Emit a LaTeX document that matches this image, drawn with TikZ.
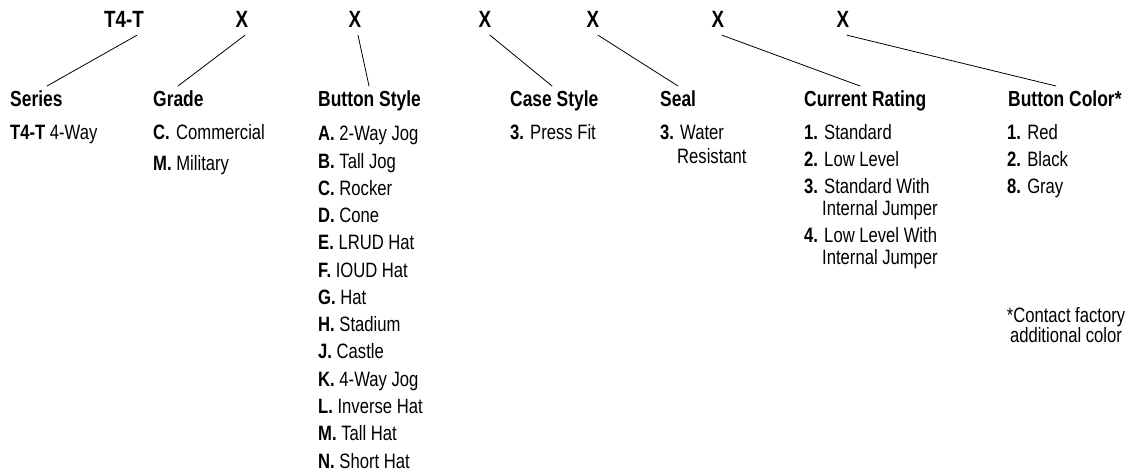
\documentclass[tikz,border=0pt]{standalone}
\usepackage{fontspec}
\setmainfont{Liberation Sans}[FakeStretch=0.8]
\usetikzlibrary{calc}

\begin{document}
\begin{tikzpicture}[x=1bp, y=-1bp, line cap=round, line join=round]
\tikzstyle{code}=[font=\fontsize{23.5bp}{26bp}\selectfont\bfseries, inner sep=0pt, anchor=base]
\tikzstyle{head}=[font=\fontsize{21.8bp}{24bp}\selectfont\bfseries, inner sep=0pt, anchor=base west]
\tikzstyle{item}=[font=\fontsize{20.8bp}{24bp}\selectfont, inner sep=0pt, anchor=base west]
\tikzstyle{lead}=[line width=0.8bp, draw=black]
\useasboundingbox (0,0) rectangle (1130,473);

% part number
\node[code] (c0) at (124,28) {T4-T};
\foreach \x [count=\i] in {242,355,485,593,718,843}
  \node[code] (c\i) at (\x,28) {X};

% headings
\node[head] (h0) at (10,107)   {Series};
\node[head] (h1) at (153,107)  {Grade};
\node[head] (h2) at (318,107)  {Button Style};
\node[head] (h3) at (510,107)  {Case Style};
\node[head] (h4) at (660,107)  {Seal};
\node[head] (h5) at (804,107)  {Current Rating};
\node[head] (h6) at (1008,107) {Button Color*};

\foreach \i/\dx/\ex in {0/13/37, 1/3/25, 2/3/51, 3/5/42, 4/5/18, 5/4/56, 6/4/48}
  \draw[lead] ([xshift=\dx bp, yshift=-7bp]c\i.south) -- ([xshift=\ex bp, yshift=5bp]h\i.north west);

% series
\node[item] (ser) at (10,140) {\textbf{T4-T} 4-Way};
% grade
\node[item] (grC) at (153,140) {\makebox[23bp][l]{\textbf{C.}}Commercial};
\node[item] (grM) at (153,171) {\textbf{M.} Military};
% button style
\foreach \k/\t [count=\i from 0] in {A/2-Way Jog, B/Tall Jog, C/Rocker, D/Cone, E/LRUD Hat,
    F/IOUD Hat, G/Hat, H/Stadium, J/Castle, K/4-Way Jog, L/Inverse Hat, M/Tall Hat, N/Short Hat}
  \node[item] (bs\k) at (318,141+27.25*\i) {\textbf{\k.} \t};
% case style
\node[item] (cs3) at (510,140) {\textbf{3.} Press Fit};
% seal
\node[item] (se3) at (660,140) {\textbf{3.} Water};
\node[item] (se3b) at (677,164) {Resistant};
% current rating
\foreach \k/\t/\y in {1/Standard/140, 2/Low Level/167, 3/Standard With/194, 4/Low Level With/243}
  \node[item] (cr\k) at (804,\y) {\textbf{\k.} \t};
\node[item] (cr3b) at (822,216) {Internal Jumper};
\node[item] (cr4b) at (822,265) {Internal Jumper};
% button color
\foreach \k/\t/\y in {1/Red/140, 2/Black/167, 8/Gray/194}
  \node[item] (bc\k) at (1007,\y) {\textbf{\k.} \t};
\node[item, anchor=base] (note1) at (1066,323) {*Contact factory};
\node[item, anchor=base] (note2) at (1066,343) {additional color};
\end{tikzpicture}
\end{document}
